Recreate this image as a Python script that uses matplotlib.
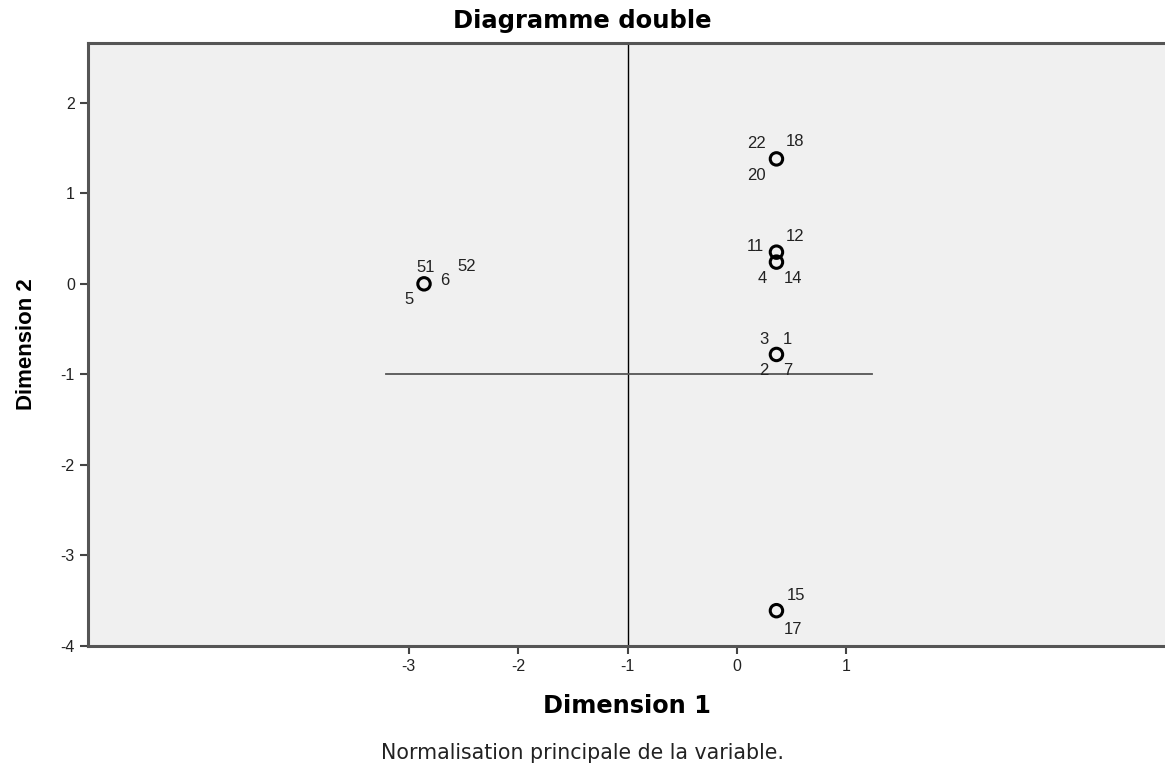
import matplotlib
matplotlib.use("Agg")
import matplotlib.pyplot as plt
from matplotlib import font_manager

plt.rcParams['font.family'] = ['Liberation Sans', 'DejaVu Sans']
plt.rcParams['axes.unicode_minus'] = False

# narrow font for the vertical axis title if there is one
names = set(f.name for f in font_manager.fontManager.ttflist)
narrow = 'Liberation Sans Narrow' if 'Liberation Sans Narrow' in names else 'Liberation Sans'

# points (Dimension 1, Dimension 2)
dim1 = [0.36, 0.36, 0.36, 0.36, 0.36, -2.86]
dim2 = [1.38, 0.35, 0.24, -0.78, -3.61, 0.0]

# labels attached to each point
point_labels = [
    ["22", "18", "20"],
    ["11", "12"],
    ["4", "14"],
    ["3", "1", "2", "7"],
    ["15", "17"],
    ["51", "52", "6", "5"],
]
# label offsets in pixels (dx, dy), one list per point
label_offsets = [
    [(-20, 15), (19, 17), (-20, -17)],
    [(-21, 6), (19, 16)],
    [(-14, -16), (17, -16)],
    [(-13, 15), (11, 15), (-13, -16), (11, -16)],
    [(20, 15), (17, -19)],
    [(2, 16), (43, 17), (21, 3), (-15, -16)],
]

ref_x = -1
ref_y = -1

fig = plt.figure(figsize=(11.65, 7.67), dpi=100)
ax = fig.add_axes([88 / 1165, 1 - 646 / 767, 1 - 88 / 1165, (646 - 43) / 767])
ax.set_facecolor('#f0f0f0')

ax.set_xlim(-5.93, 3.91)
ax.set_ylim(-4, 2.66)

ax.axvline(ref_x, color='black', lw=1.0, zorder=1)
ax.plot([-3.21, 1.23], [ref_y, ref_y], color='#555555', lw=1.3, zorder=1)

ax.scatter(dim1, dim2, s=80, facecolors='none', edgecolors='black', linewidths=2.2, zorder=3)

for x, y, labs, offs in zip(dim1, dim2, point_labels, label_offsets):
    for lab, (dx, dy) in zip(labs, offs):
        ax.annotate(lab, (x, y), xytext=(dx * 0.72, dy * 0.72), textcoords='offset points',
                    ha='center', va='center', fontsize=12, color='#222222')

ax.set_xticks([-3, -2, -1, 0, 1])
ax.set_yticks([-4, -3, -2, -1, 0, 1, 2])
ax.tick_params(direction='out', length=6, width=1.5, color='#444444', labelsize=11.5, labelcolor='#222222')

ax.spines['right'].set_visible(False)
for side in ['left', 'bottom', 'top']:
    ax.spines[side].set_color('#555555')
    ax.spines[side].set_linewidth(2.2)

fig.text(0.5, 1 - 21 / 767, 'Diagramme double', ha='center', va='center',
         fontsize=17.5, fontweight='bold', family=['DejaVu Sans'])
ax.set_xlabel('Dimension 1', fontsize=17.3, fontweight='bold', family=['DejaVu Sans'])
ax.xaxis.set_label_coords(0.5, -0.08)
ax.set_ylabel('Dimension 2', fontsize=16, fontweight='bold', family=[narrow, 'DejaVu Sans'])
ax.yaxis.set_label_coords(-0.047, 0.5)

fig.text(0.5, 1 - 753 / 767, 'Normalisation principale de la variable.',
         ha='center', va='center', fontsize=14.8, color='#222222', family=['DejaVu Sans'])

fig.savefig('out.png', dpi=100)
